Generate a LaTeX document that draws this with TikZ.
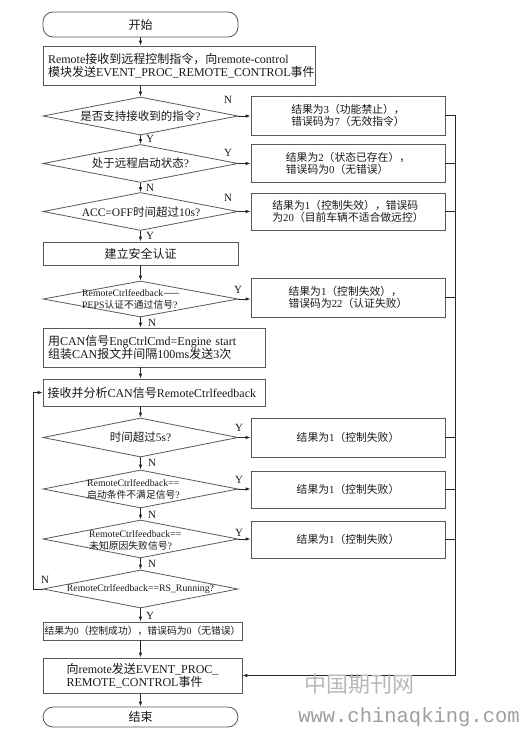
\documentclass[tikz,border=0pt]{standalone}
\usepackage{fontspec}
\setmainfont{Liberation Serif}
\newfontfamily\cjk{Noto Sans CJK SC}
\newfontfamily\wmmono{Liberation Mono}
\usetikzlibrary{shapes.geometric,arrows.meta}
\newcommand\zh[1]{{\cjk #1}}
\tikzset{
  box/.style={draw=black!65, line width=0.8pt, rectangle, inner sep=0pt, text=black!90,
              font=\fontsize{12}{13.5}\selectfont},
  rbox/.style={box, minimum width=194pt, font=\fontsize{10.8}{12}\selectfont, align=left},
  term/.style={box, rounded corners=10pt, minimum width=195pt},
  dia/.style={draw=black!65, line width=0.8pt, diamond, inner sep=0pt, minimum width=195pt, minimum height=38pt},
  dtxt/.style={inner sep=0pt, text=black!90, font=\fontsize{11.5}{13}\selectfont},
  dsmall/.style={inner sep=0pt, text=black!90, font=\fontsize{9.8}{12}\selectfont, align=left, anchor=west},
  arr/.style={-{Latex[length=5pt,width=3.6pt]}, line width=0.8pt, draw=black!85},
  ln/.style={line width=0.9pt, draw=black!85},
  yn/.style={inner sep=0pt, text=black!90, font=\fontsize{11}{12}\selectfont},
}
\begin{document}
\begin{tikzpicture}[x=1pt,y=-1pt]
\useasboundingbox (0,0) rectangle (526,741);
\fill[white] (0,0) rectangle (526,741);

% left column
\node[term, minimum height=25pt] (start) at (140.5,24.5) {\zh{开始}};
\node[box, minimum width=272pt, minimum height=39pt, text width=262pt, align=left] (b1) at (179,65.5)
  {Remote\zh{接收到远程控制指令，向}remote-control\\\zh{模块发送}EVENT\_PROC\_REMOTE\_CONTROL\zh{事件}};
\node[dia] (d1) at (140.5,116) {};
\node[dtxt] (t1) at (140.5,116) {\zh{是否支持接收到的指令}?};
\node[dia] (d2) at (140.5,163.5) {};
\node[dtxt] (t2) at (140.5,163.5) {\zh{处于远程启动状态}?};
\node[dia] (d3) at (140.5,211.5) {};
\node[dtxt] (t3) at (141,212) {ACC=OFF\zh{时间超过}10s?};
\node[box, minimum width=195pt, minimum height=23pt] (b2) at (140.5,253.5) {\zh{建立安全认证}};
\node[dia, minimum height=36pt] (d4) at (140.5,299) {};
\node[dsmall] (t4) at (82,299) {RemoteCtrlfeedback\zh{——}\\PEPS\zh{认证不通过信号}?};
\node[box, minimum width=222pt, minimum height=39pt, text width=212pt, align=left] (b3) at (154,347.5)
  {\zh{用}CAN\zh{信号}EngCtrlCmd=Engine start\\\zh{组装}CAN\zh{报文并间隔}100ms\zh{发送}3\zh{次}};
\node[box, minimum width=222pt, minimum height=27pt, text width=213pt, align=left] (b4) at (154,392.5)
  {\zh{接收并分析}CAN\zh{信号}RemoteCtrlfeedback};
\node[dia, minimum height=39pt] (d5) at (140.5,437.5) {};
\node[dtxt] (t5) at (140.5,437.5) {\zh{时间超过}5s?};
\node[dia] (d6) at (140.5,489) {};
\node[dsmall] (t6) at (87,489) {RemoteCtrlfeedback==\\\zh{启动条件不满足信号}?};
\node[dia] (d7) at (140.5,539) {};
\node[dsmall] (t7) at (89,540) {RemoteCtrlfeedback==\\\zh{未知原因失败信号}?};
\node[dia] (d8) at (140.5,589) {};
\node[dtxt, font=\fontsize{9.8}{12}\selectfont] (t8) at (140.5,589) {RemoteCtrlfeedback==RS\_Running?};
\node[box, minimum width=199pt, minimum height=18pt, font=\fontsize{9.8}{12}\selectfont] (b5) at (142.5,631)
  {\zh{结果为}0\zh{（控制成功），错误码为}0\zh{（无错误）}};
\node[box, minimum width=199pt, minimum height=35pt, align=left] (b6) at (142.5,675.5)
  {\zh{向}remote\zh{发送}EVENT\_PROC\_\\REMOTE\_CONTROL\zh{事件}};
\node[term, minimum height=20pt] (end) at (140.5,717) {\zh{结束}};

% right column
\node[rbox, minimum height=39pt] (r1) at (348,115.5) {\zh{结果为}3\zh{（功能禁止），}\\\zh{错误码为}7\zh{（无效指令）}};
\node[rbox, minimum height=38pt] (r2) at (348,163) {\zh{结果为}2\zh{（状态已存在），}\\\zh{错误码为}0\zh{（无错误）}};
\node[rbox, minimum height=37pt] (r3) at (348,211.5) {\zh{结果为}1\zh{（控制失效），错误码}\\\zh{为}20\zh{（目前车辆不适合做远控）}};
\node[rbox, minimum height=39pt] (r4) at (348,297.5) {\zh{结果为}1\zh{（控制失效），}\\\zh{错误码为}22\zh{（认证失败）}};
\node[rbox, minimum height=39pt] (r5) at (348,437.5) {\zh{结果为}1\zh{（控制失败）}};
\node[rbox, minimum height=37pt] (r6) at (348,489.5) {\zh{结果为}1\zh{（控制失败）}};
\node[rbox, minimum height=37pt] (r7) at (348,539.5) {\zh{结果为}1\zh{（控制失败）}};

% vertical flow
\draw[arr] (start.south) -- (start.south |- b1.north);
\draw[arr] (b1.south -| d1.north) -- (d1.north);
\draw[arr] (d1.south) -- (d2.north);
\draw[arr] (d2.south) -- (d3.north);
\draw[arr] (d3.south) -- (b2.north);
\draw[arr] (b2.south) -- (d4.north);
\draw[arr] (d4.south) -- (d4.south |- b3.north);
\draw[arr] (b3.south -| d4.south) -- (b4.north -| d4.south);
\draw[arr] (b4.south -| d5.north) -- (d5.north);
\draw[arr] (d5.south) -- (d6.north);
\draw[arr] (d6.south) -- (d7.north);
\draw[arr] (d7.south) -- (d8.north);
\draw[arr] (d8.south) -- (d8.south |- b5.north);
\draw[arr] (b5.south -| d8.south) -- (b6.north -| d8.south);
\draw[arr] (b6.south -| end.north) -- (end.north);

% branches to the right
\draw[arr] (d1.east) -- (r1.west |- d1.east);
\draw[arr] (d2.east) -- (r2.west |- d2.east);
\draw[arr] (d3.east) -- (r3.west |- d3.east);
\draw[arr] (d4.east) -- (r4.west |- d4.east);
\draw[arr] (d5.east) -- (r5.west |- d5.east);
\draw[arr] (d6.east) -- (r6.west |- d6.east);
\draw[arr] (d7.east) -- (r7.west |- d7.east);

% bus on the right
\coordinate (bus) at (455,675.5);
\draw[ln] (r1.east) -| (bus);
\draw[arr] (bus) -- (b6.east);
\foreach \r in {r2,r3,r4,r5,r6,r7} \draw[ln] (\r.east) -- (\r.east -| bus);

% loop back
\coordinate (lp) at (33,589);
\draw[arr] (d8.west) -- (lp) |- (b4.west);

% Y / N labels
\node[yn] (l1a) at (228,100) {N};
\node[yn] (l1b) at (150,139) {Y};
\node[yn] (l2a) at (228,153) {Y};
\node[yn] (l2b) at (150,188) {N};
\node[yn] (l3a) at (228,198) {N};
\node[yn] (l3b) at (150,236) {Y};
\node[yn] (l4a) at (238,290) {Y};
\node[yn] (l4b) at (152,323) {N};
\node[yn] (l5a) at (239,428) {Y};
\node[yn] (l5b) at (152,463) {N};
\node[yn] (l6a) at (239,480) {Y};
\node[yn] (l6b) at (152,515) {N};
\node[yn] (l7a) at (239,533) {Y};
\node[yn] (l7b) at (152,564) {N};
\node[yn] (l8a) at (45,580) {N};
\node[yn] (l8b) at (150,616) {Y};

% watermark
\node[inner sep=0pt, text=black!28, font=\cjk\fontsize{22}{24}\selectfont] (wm1) at (359,684) {中国期刊网};
\node[inner sep=0pt, text=black!38, font=\wmmono\fontsize{20.5}{22}\selectfont] (wm2) at (409,717) {www.chinaqking.com};
\end{tikzpicture}
\end{document}
